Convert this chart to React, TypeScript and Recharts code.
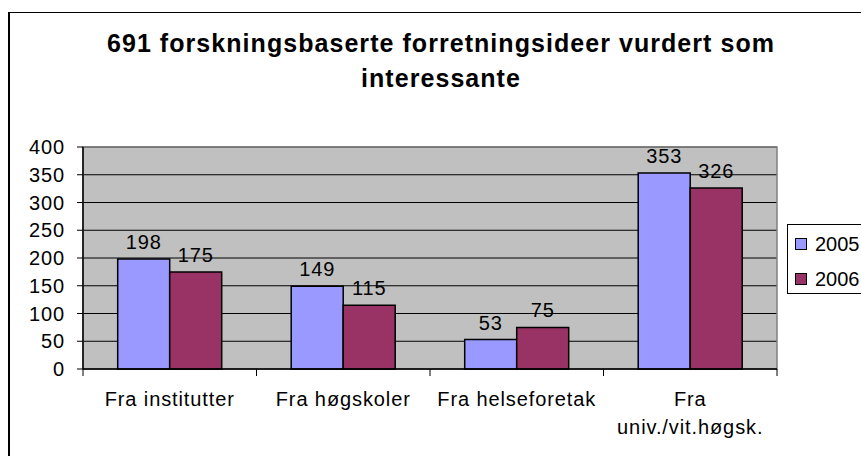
import { BarChart, Bar, XAxis, YAxis, CartesianGrid, LabelList, ReferenceArea } from 'recharts';

const categories = ['Fra institutter', 'Fra høgskoler', 'Fra helseforetak', 'Fra univ./vit.høgsk.'];
const values2005 = [198, 149, 53, 353];
const values2006 = [175, 115, 75, 326];
const seriesNames = ['2005', '2006'];
const seriesColors = ['#9999FF', '#993366'];
const yTicks = [0, 50, 100, 150, 200, 250, 300, 350, 400];
const titleLines = ['691 forskningsbaserte forretningsideer vurdert som', 'interessante'];

const FONT = '"Liberation Sans", Arial, sans-serif';
const W = 900;
const H = 456;
const PLOT = { left: 83, top: 147, right: 777, bottom: 369 };
const Y_AXIS_W = 60;
const X_AXIS_H = 60;

const data = categories.map((name, i) => ({ name, v2005: values2005[i], v2006: values2006[i] }));

function CategoryTick(props: any) {
  const { x, payload, index } = props;
  const band = (PLOT.right - PLOT.left) / categories.length;
  const axisY = PLOT.bottom;
  const label: string = payload.value;
  const sp = label.indexOf(' ');
  const lines = label.length > 18 ? [label.slice(0, sp), label.slice(sp + 1)] : [label];
  return (
    <g>
      <line x1={x - band / 2} x2={x - band / 2} y1={axisY} y2={axisY + 7} stroke="#000" />
      {index === categories.length - 1 && (
        <line x1={x + band / 2} x2={x + band / 2} y1={axisY} y2={axisY + 7} stroke="#000" />
      )}
      <text x={x} y={axisY + 37} textAnchor="middle" fill="#000" fontSize={20} fontFamily={FONT} letterSpacing={0.9}>
        {lines.map((l, i) => (
          <tspan key={i} x={x} dy={i === 0 ? 0 : 27.5}>{l}</tspan>
        ))}
      </text>
    </g>
  );
}

export default function App() {
  return (
    <div style={{ position: 'fixed', left: 0, top: 0, width: 861, height: 456, overflow: 'hidden', background: '#fff', fontFamily: FONT }}>
      {/* outer chart frame, runs past the window on the right and bottom */}
      <div style={{ position: 'absolute', left: 8, top: 12, width: 1000, height: 600, borderTop: '1px solid #000', borderLeft: '2px solid #000' }} />

      <div style={{ position: 'absolute', left: 441 - 400, top: 26, width: 800, textAlign: 'center', fontSize: 25, fontWeight: 700, lineHeight: '35px', letterSpacing: 1.05, color: '#000' }}>
        {titleLines.map((t, i) => <div key={i}>{t}</div>)}
      </div>

      <div style={{ position: 'absolute', left: 0, top: 0 }}>
        <BarChart
          width={W}
          height={H}
          data={data}
          barCategoryGap="20%"
          barGap={0}
          margin={{ top: PLOT.top, right: W - PLOT.right, left: PLOT.left - Y_AXIS_W, bottom: H - PLOT.bottom - X_AXIS_H }}
        >
          <CartesianGrid vertical={false} stroke="#000" fill="#C0C0C0" fillOpacity={1} />
          <ReferenceArea x1={categories[0]} x2={categories[categories.length - 1]} y1={0} y2={400} fill="none" stroke="#808080" strokeWidth={1.5} />
          <XAxis
            dataKey="name"
            height={X_AXIS_H}
            interval={0}
            axisLine={{ stroke: '#000', strokeWidth: 1.5 }}
            tickLine={false}
            tick={<CategoryTick />}
          />
          <YAxis
            width={Y_AXIS_W}
            domain={[0, 400]}
            ticks={yTicks}
            interval={0}
            axisLine={{ stroke: '#000', strokeWidth: 1.5 }}
            tickLine={{ stroke: '#000' }}
            tickSize={6}
            tickMargin={12}
            tick={{ fill: '#000', fontSize: 20, fontFamily: FONT, letterSpacing: 0.9 }}
          />
          <Bar dataKey="v2005" name={seriesNames[0]} fill={seriesColors[0]} stroke="#000" strokeWidth={1.5} isAnimationActive={false}>
            <LabelList dataKey="v2005" position="top" offset={10} fill="#000" fontSize={20} fontFamily={FONT} letterSpacing={0.9} />
          </Bar>
          <Bar dataKey="v2006" name={seriesNames[1]} fill={seriesColors[1]} stroke="#000" strokeWidth={1.5} isAnimationActive={false}>
            <LabelList dataKey="v2006" position="top" offset={10} fill="#000" fontSize={20} fontFamily={FONT} letterSpacing={0.9} />
          </Bar>
        </BarChart>
      </div>

      {/* legend box, cut off by the right edge like the original */}
      <div style={{ position: 'absolute', left: 787, top: 224, width: 120, height: 68, border: '1px solid #000', background: '#fff' }}>
        {seriesNames.map((s, i) => (
          <div key={s} style={{ position: 'absolute', left: 7, top: 8 + i * 35, height: 22, display: 'flex', alignItems: 'center', fontSize: 20, color: '#000', whiteSpace: 'nowrap' }}>
            <span style={{ display: 'inline-block', width: 10, height: 10, border: '1px solid #000', background: seriesColors[i], marginRight: 8 }} />
            {s}
          </div>
        ))}
      </div>
    </div>
  );
}
